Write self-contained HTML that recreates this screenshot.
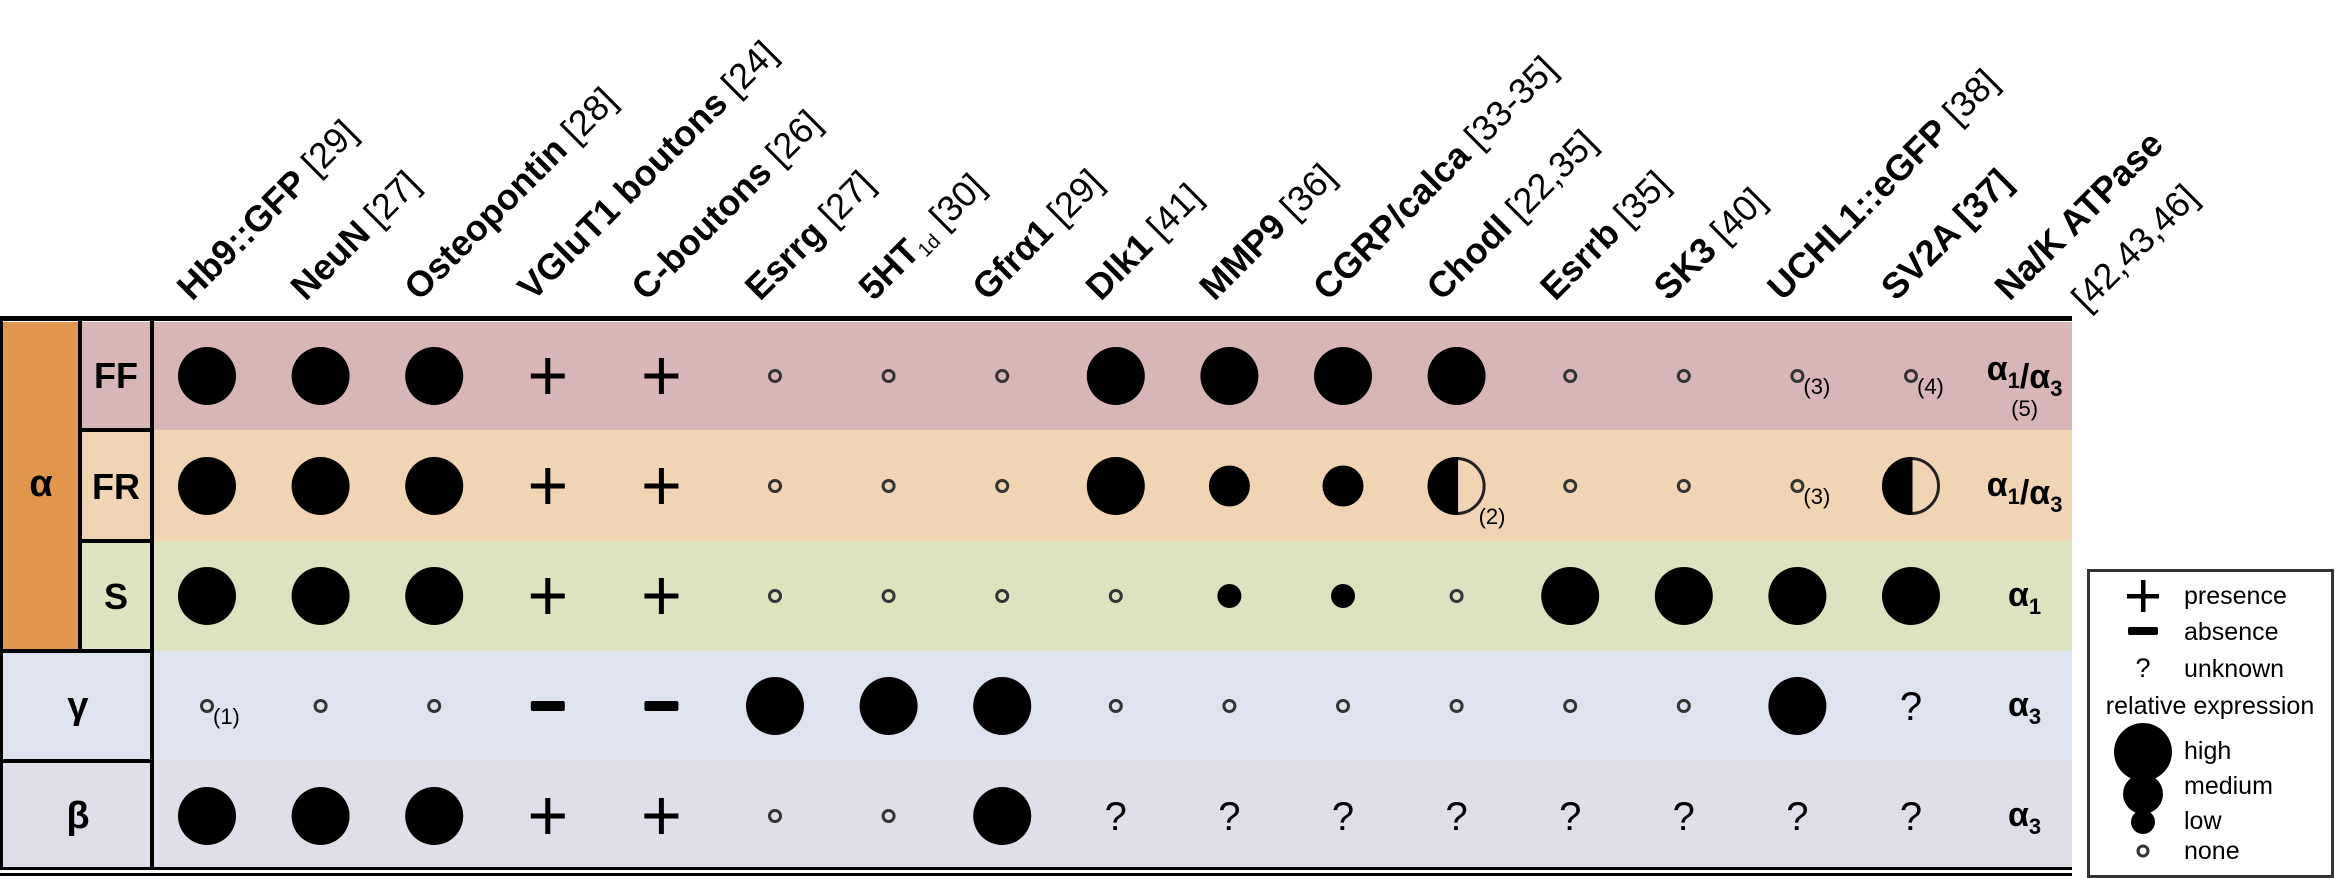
<!DOCTYPE html>
<html><head><meta charset="utf-8"><style>
html,body{margin:0;padding:0;background:#fff;}
svg{display:block;font-family:"Liberation Sans",Arial,sans-serif;}
</style></head><body>
<svg id="chart" width="2335" height="878" viewBox="0 0 2335 878" xmlns="http://www.w3.org/2000/svg">
<g id="bg"></g>
<g id="heads"></g>
<g id="marks"></g>
<g id="frame">
  <rect x="0" y="316" width="2072" height="5" fill="#000"/>
  <rect x="0" y="867" width="2072" height="3" fill="#000"/>
  <rect x="0" y="873" width="2072" height="3" fill="#000"/>
  <rect x="3" y="322" width="76" height="329" fill="#e0964c"/>
  <rect x="0" y="321" width="3" height="547" fill="#000"/>
  <rect x="78" y="321" width="4" height="331" fill="#000"/>
  <rect x="150" y="321" width="4" height="547" fill="#000"/>
  <rect x="80" y="428" width="72" height="4" fill="#000"/>
  <rect x="80" y="539" width="72" height="4" fill="#000"/>
  <rect x="0" y="649" width="152" height="4" fill="#000"/>
  <rect x="0" y="759" width="152" height="4" fill="#000"/>
  <text x="41" y="496" font-size="38" font-weight="bold" text-anchor="middle">α</text>
  <text x="116" y="388" font-size="36" font-weight="bold" text-anchor="middle">FF</text>
  <text x="116" y="499" font-size="36" font-weight="bold" text-anchor="middle">FR</text>
  <text x="116" y="609" font-size="36" font-weight="bold" text-anchor="middle">S</text>
  <text x="78" y="718" font-size="38" font-weight="bold" text-anchor="middle">γ</text>
  <text x="78" y="828" font-size="38" font-weight="bold" text-anchor="middle">β</text>
</g>
<g id="legend">
  <rect x="2088.5" y="570.5" width="244" height="306" fill="#fff" stroke="#333" stroke-width="3"/>
  <g>
    <rect x="2127" y="594" width="32" height="4.5" fill="#000"/><rect x="2141" y="580" width="4.5" height="32" fill="#000"/>
    <text x="2184" y="604" font-size="25">presence</text></g>
  <g>
    <rect x="2128" y="627" width="30" height="8" rx="2" fill="#000"/>
    <text x="2184" y="640" font-size="25">absence</text></g>
  <g>
    <text x="2143" y="677" font-size="27" text-anchor="middle">?</text>
    <text x="2184" y="677" font-size="25">unknown</text></g>
  <text x="2210" y="714" font-size="25" text-anchor="middle">relative expression</text>
  <g><circle cx="2143" cy="752" r="29" fill="#000"/><text x="2184" y="759" font-size="25">high</text></g>
  <g><circle cx="2143" cy="794" r="20" fill="#000"/><text x="2184" y="794" font-size="25">medium</text></g>
  <g><circle cx="2143" cy="822" r="12" fill="#000"/><text x="2184" y="829" font-size="25">low</text></g>
  <g><circle cx="2143" cy="851" r="5" fill="none" stroke="#333" stroke-width="3"/><text x="2184" y="859" font-size="25">none</text></g>
</g>
</svg>
<script>
const columns = ["Hb9::GFP","NeuN","Osteopontin","VGluT1 boutons","C-boutons","Esrrg","5HT","Gfrα1","Dlk1","MMP9","CGRP/calca","Chodl","Esrrb","SK3","UCHL1::eGFP","SV2A [37]","Na/K ATPase"];
const refs = ["[29]","[27]","[28]","[24]","[26]","[27]","[30]","[29]","[41]","[36]","[33-35]","[22,35]","[35]","[40]","[38]","",""];
const rowNames = ["FF","FR","S","gamma","beta"];
const rowColors = ["#d9b6b6","#f1d4b4","#dce3c0","#dde3ef","#e1dde9"];
const rowFF = ["H","H","H","+","+","N","N","N","H","H","H","H","N","N","N","N"];
const rowFR = ["H","H","H","+","+","N","N","N","H","M","M","HALF","N","N","N","HALF"];
const rowS = ["H","H","H","+","+","N","N","N","N","L","L","N","H","H","H","H"];
const rowGamma = ["N","N","N","-","-","H","H","H","N","N","N","N","N","N","H","?"];
const rowBeta = ["H","H","H","+","+","N","N","H","?","?","?","?","?","?","?","?"];
const rows = [rowFF,rowFR,rowS,rowGamma,rowBeta];
const isoforms = [["1","3"],["1","3"],["1"],["3"],["3"]];
const footnotes = [[0,14,"(3)"],[0,15,"(4)"],[1,11,"(2)"],[1,14,"(3)"],[3,0,"(1)"]];

const NS="http://www.w3.org/2000/svg";
function xCol(i){return 207+i*113.6;}
function yRow(r){return 376+r*110;}
const rowTop=[322,430,541,651,761], rowBot=[430,541,651,761,867];
function mk(tag,attrs,parent){const e=document.createElementNS(NS,tag);for(const k in attrs)e.setAttribute(k,attrs[k]);parent.appendChild(e);return e;}
const bg=document.getElementById('bg'), heads=document.getElementById('heads'), marks=document.getElementById('marks');

rowNames.forEach((n,r)=>{
  const e=mk('rect',{x:154,y:rowTop[r],width:1918,height:rowBot[r]-rowTop[r],fill:rowColors[r]},bg);
  
  
  const lc=mk('rect',{x:82,y:rowTop[r],width:70,height:rowBot[r]-rowTop[r],fill:rowColors[r]},bg);
  
  
});
[3,4].forEach(r=>{const c=mk('rect',{x:3,y:rowTop[r],width:150,height:rowBot[r]-rowTop[r],fill:rowColors[r]},bg);
  
  });

columns.forEach((c,i)=>{
  const x=xCol(i)-15, y=302;
  const t=mk('text',{x:0,y:0,'font-size':36,transform:`translate(${x},${y}) rotate(-45)`},heads);
  
  
  const b=mk('tspan',{'font-weight':'bold'},t); b.textContent=c;
  if(c==="5HT"){const s=mk('tspan',{'font-size':20,dy:6},t);s.textContent="1d";const r2=mk('tspan',{dy:-6},t);r2.textContent=" "+refs[i];}
  else if(refs[i]){const r2=mk('tspan',{},t);r2.textContent=" "+refs[i];}
  if(i===16){const t2=mk('text',{x:47,y:62,'font-size':36,transform:`translate(${x},${y}) rotate(-45)`},heads);
    
    
    t2.textContent="[42,43,46]";}
});

const R={H:29,M:20.5,L:12};
rows.forEach((row,r)=>{
  const cy=yRow(r);
  row.forEach((v,i)=>{
    const cx=xCol(i); let e;
    if(R[v]) e=mk('circle',{cx,cy,r:R[v],fill:'#000'},marks);
    else if(v==='N') e=mk('circle',{cx,cy,r:5.5,fill:'none',stroke:'#333','stroke-width':3},marks);
    else if(v==='+'){e=mk('g',{},marks);mk('rect',{x:cx-17,y:cy-2.5,width:34,height:5,fill:'#000'},e);mk('rect',{x:cx-2.5,y:cy-18,width:5,height:36,fill:'#000'},e);}
    else if(v==='-') e=mk('rect',{x:cx-17,y:cy-5,width:34,height:10,rx:2,fill:'#000'},marks);
    else if(v==='?') e=mk('text',{x:cx,y:cy+14,'font-size':40,'text-anchor':'middle'},marks);
    else if(v==='HALF'){e=mk('g',{},marks);
      mk('circle',{cx,cy,r:27.5,fill:'none',stroke:'#222','stroke-width':3},e);
      mk('path',{d:`M${cx},${cy-29} A29,29 0 0 0 ${cx},${cy+29} Z`,fill:'#000'},e);
      mk('rect',{x:cx-1.5,y:cy-29,width:3,height:58,fill:'#000'},e);}
    if(v==='?') e.textContent='?';
    
    
  });
  const iso=isoforms[r]; const cx=xCol(16);
  const t=mk('text',{x:cx,y:cy+(r===0?4:10),'font-size':34,'font-weight':'bold','text-anchor':'middle'},marks);
  
  
  iso.forEach((s,k)=>{const a=mk('tspan',{},t);a.textContent=(k?'/':'')+'α';const sb=mk('tspan',{'font-size':22,dy:8},t);sb.textContent=s;mk('tspan',{dy:-8},t);});
});
const f5=mk('text',{x:xCol(16),y:416,'font-size':22,'text-anchor':'middle'},marks);


f5.textContent='(5)';
footnotes.forEach(([r,i,s])=>{
  const big=rows[r][i]==='HALF';
  const t=mk('text',{x:xCol(i)+(big?22:6),y:yRow(r)+(big?38:18),'font-size':22},marks);
  
  
  t.textContent=s;
});
</script>
</body></html>
